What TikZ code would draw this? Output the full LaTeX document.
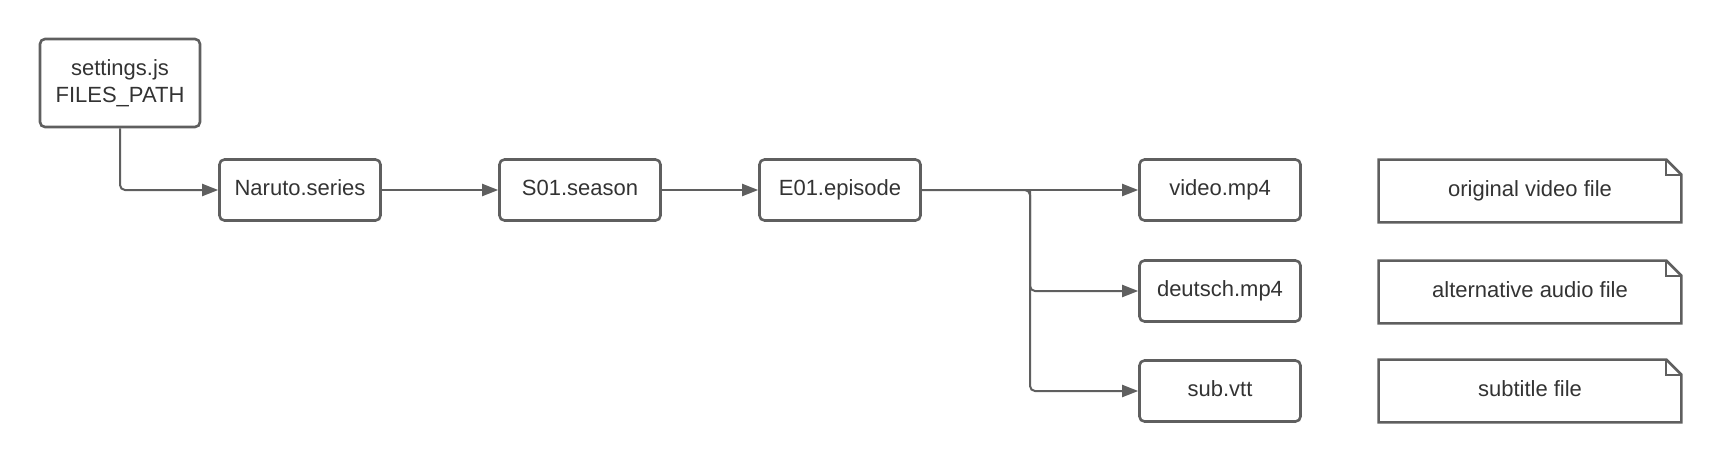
\documentclass[tikz,border=0pt]{standalone}
\usepackage{fontspec}
\setmainfont{Liberation Sans}
\usetikzlibrary{arrows.meta}

\definecolor{linegray}{HTML}{5F5F5F}
\definecolor{textgray}{HTML}{333333}

\begin{document}
\begin{tikzpicture}[x=0.5pt,y=-0.5pt,
    file/.style={draw=linegray,line width=1.3pt,rounded corners=2.5pt,
        minimum width=80.5pt,minimum height=30.5pt,text=textgray,
        text height=8pt,text depth=3pt,font=\fontsize{11}{13.5}\selectfont},
    note/.style={minimum width=151pt,minimum height=31pt,text=textgray,
        text height=8pt,text depth=3pt,font=\fontsize{11}{13.5}\selectfont},
    link/.style={draw=linegray,line width=1pt,rounded corners=2.5pt,-{Triangle[length=8pt,width=6pt]}}]
    \useasboundingbox (0,0) rectangle (1720,462);
    % folders
    \node[file,minimum width=80pt,minimum height=44pt,align=center,text height=,text depth=] (settings) at (120,83) {settings.js\\FILES\_PATH};
    \node[file] (series) at (300,190) {Naruto.series};
    \node[file] (season) at (580,190) {S01.season};
    \node[file] (episode) at (840,190) {E01.episode};
    % files
    \node[file] (video) at (1220,190) {video.mp4};
    \node[file] (deutsch) at (1220,291) {deutsch.mp4};
    \node[file] (sub) at (1220,391) {sub.vtt};
    % notes
    \node[note] (n1) at (1530,191) {original video file};
    \node[note] (n2) at (1530,292) {alternative audio file};
    \node[note] (n3) at (1530,391) {subtitle file};
    \foreach \n in {n1,n2,n3}{
        \draw[linegray,line width=1.3pt] (\n.south west) -- (\n.north west)
            -- ([xshift=-7.5pt]\n.north east) -- ([yshift=-7.5pt]\n.north east)
            -- (\n.south east) -- cycle;
        \draw[linegray,line width=1pt] ([xshift=-7.5pt]\n.north east)
            |- ([yshift=-7.5pt]\n.north east);
    }
    % connectors
    \coordinate (split) at (1030,190);
    \path[link] (settings.south) |- (series.west);
    \path[link] (series) -- (season);
    \path[link] (season) -- (episode);
    \path[link] (episode) -- (video);
    \path[link] (episode.east) -- (split) |- (deutsch.west);
    \path[link] (split) |- (sub.west);
\end{tikzpicture}
\end{document}
